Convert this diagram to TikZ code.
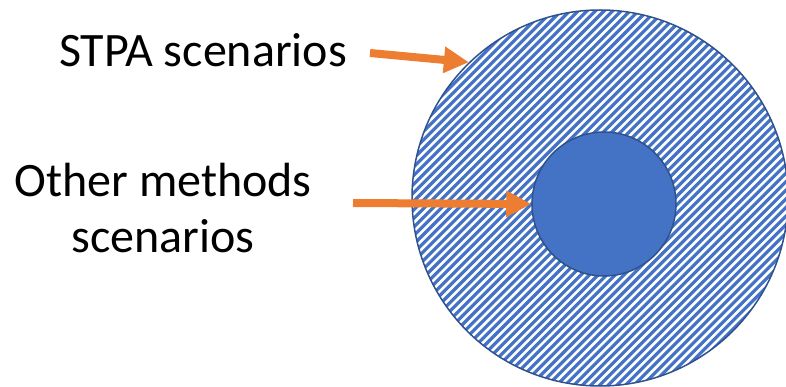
\documentclass[tikz,border=0pt]{standalone}
\usepackage{fontspec}
\setmainfont{Carlito}
\usepackage{tikz}
\usetikzlibrary{arrows.meta}

\definecolor{setblue}{HTML}{4472C4}
\definecolor{setline}{HTML}{2F528F}
\definecolor{arrorange}{HTML}{ED7D31}

\tikzset{
  setcirc/.style={circle, draw=setline, line width=1.5pt, inner sep=0pt},
  lbl/.style={font=\fontsize{48}{55}\selectfont, align=center, inner sep=0pt},
  ptr/.style={draw=arrorange, line width=8pt, -{Triangle[length=25pt,width=25pt]}}
}

\begin{document}
\begin{tikzpicture}[x=1pt, y=-1pt]
\useasboundingbox (0,0) rectangle (786,387);

% hatched outer set
\begin{scope}
\clip (600,198) circle (188);
\foreach \i in {0,8.6,...,800}
  \draw[setblue, line width=3.2pt] (\i,400) -- ++(400,-400);
\end{scope}

\node[setcirc, minimum size=376pt] (stpa) at (600,198) {};
\node[setcirc, fill=setblue, minimum size=144pt] (other) at (604,204) {};

\node[lbl, anchor=base] (stpatext) at (203,67) {STPA scenarios};
\node[lbl, anchor=base] (othertext) at (163,252) {Other methods\\scenarios};

\coordinate (t1) at (370,53);
\coordinate (t2) at (353,203);

\path[ptr]
(t1) -- (stpa.134);
\path[ptr]
(t2) -- (other.west);

\end{tikzpicture}
\end{document}
